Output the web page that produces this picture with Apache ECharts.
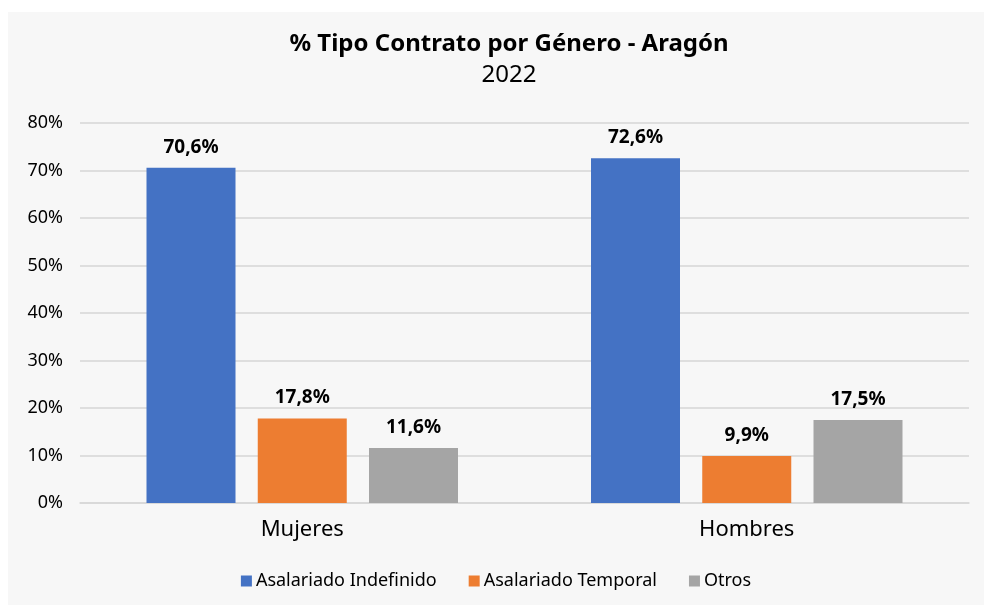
<!DOCTYPE html>
<html>
<head>
<meta charset="utf-8">
<script src="https://cdn.jsdelivr.net/npm/echarts@6/dist/echarts.min.js"></script>
<style>
  html, body { margin: 0; padding: 0; background: #ffffff; }
  #chart {
    position: absolute;
    left: 8px;
    top: 12px;
    width: 976px;
    height: 593px;
    background: #f7f7f7;
  }
</style>
</head>
<body>
<div id="chart"></div>
<script>
const categories = ['Mujeres', 'Hombres']
const seriesNames = ['Asalariado Indefinido', 'Asalariado Temporal', 'Otros']
const indefinido = [70.6, 72.6]
const temporal = [17.8, 9.9]
const otros = [11.6, 17.5]
const yTicks = [0, 10, 20, 30, 40, 50, 60, 70, 80]

const colors = ['#4472C4', '#ED7D31', '#A5A5A5']
const FONT = 'Noto Sans'

const chart = echarts.init(document.getElementById('chart'))

const fmt = v => v.toFixed(1).replace('.', ',') + '%'

const makeSeries = (name, values, color) => ({
  type: 'bar',
  name,
  data: values,
  barWidth: 89,
  barGap: '25%',
  itemStyle: { color },
  label: {
    show: true,
    position: 'top',
    distance: 11,
    fontFamily: FONT,
    fontWeight: 'bold',
    fontSize: 19,
    color: '#000',
    formatter: p => fmt(p.value)
  }
})

chart.setOption({
  animation: false,
  textStyle: { fontFamily: FONT },
  title: {
    text: '% Tipo Contrato por Género - Aragón',
    subtext: '2022',
    left: 496,
    textAlign: 'center',
    top: 15,
    itemGap: 7,
    textStyle: { fontFamily: FONT, fontSize: 24, fontWeight: 'bold', color: '#000' },
    subtextStyle: { fontFamily: FONT, fontSize: 24, color: '#000' }
  },
  legend: {
    data: seriesNames,
    bottom: 10,
    left: 'center',
    itemWidth: 11,
    itemHeight: 11,
    itemGap: 32,
    icon: 'rect',
    textStyle: { fontFamily: FONT, fontSize: 18, color: '#000', padding: [0, 0, 0, -1] }
  },
  grid: { left: 72, right: 15, top: 111, bottom: 102, containLabel: false },
  xAxis: {
    type: 'category',
    data: categories,
    axisTick: { show: false },
    axisLine: { lineStyle: { color: '#d6d6d6', width: 1.5 } },
    axisLabel: { fontFamily: FONT, fontSize: 22, color: '#000', margin: 16 }
  },
  yAxis: {
    type: 'value',
    min: 0,
    max: 80,
    interval: 10,
    axisLine: { show: false },
    axisTick: { show: false },
    axisLabel: {
      fontFamily: FONT,
      fontSize: 18,
      color: '#000',
      margin: 17,
      formatter: v => yTicks.includes(v) ? v + '%' : ''
    },
    splitLine: { lineStyle: { color: '#d6d6d6', width: 1.5 } }
  },
  series: [
    makeSeries(seriesNames[0], indefinido, colors[0]),
    makeSeries(seriesNames[1], temporal, colors[1]),
    makeSeries(seriesNames[2], otros, colors[2])
  ]
})
</script>
</body>
</html>
